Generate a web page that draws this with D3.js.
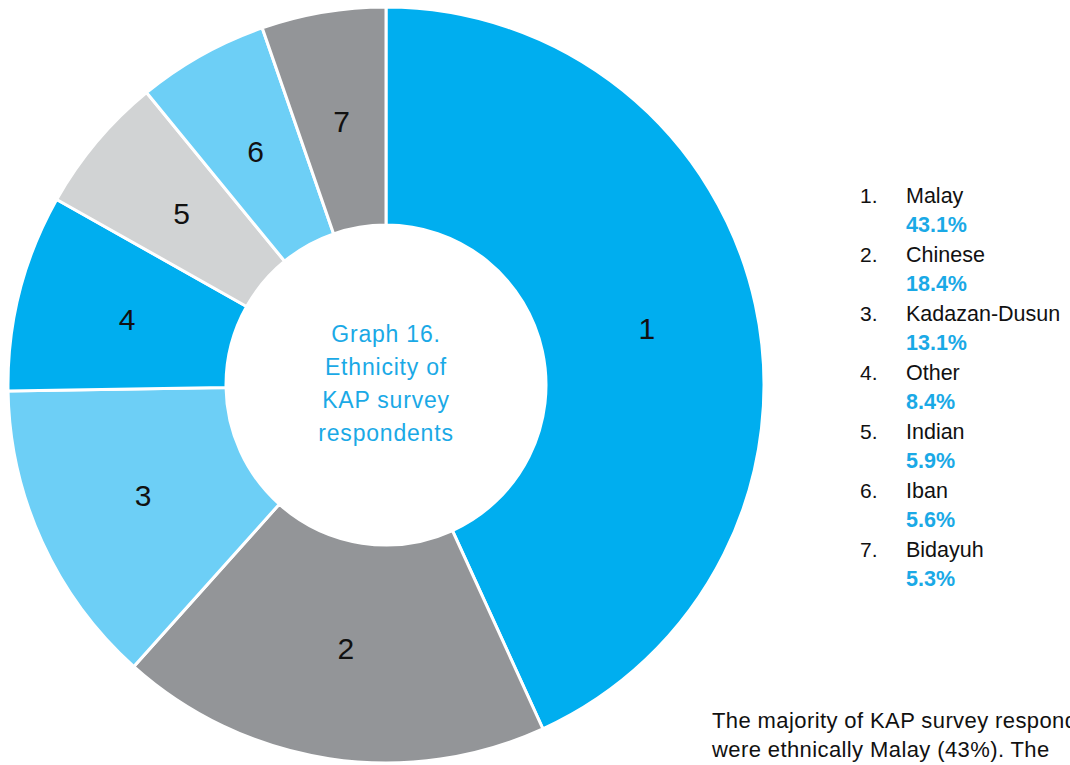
<!DOCTYPE html>
<html>
<head>
<meta charset="utf-8">
<script src="https://cdn.jsdelivr.net/npm/d3@7"></script>
<style>
  html, body { margin: 0; padding: 0; background: #fff; overflow: hidden; }
  svg { display: block; font-family: "Liberation Sans", Arial, Helvetica, sans-serif; }
</style>
</head>
<body>
<svg id="chart" width="1070" height="765"></svg>
<script>
// Ethnicity of KAP survey respondents (percent)
const categories = ["Malay", "Chinese", "Kadazan-Dusun", "Other", "Indian", "Iban", "Bidayuh"];
const values = [43.1, 18.4, 13.1, 8.4, 5.9, 5.6, 5.3];
const sliceColors = ["#00aeef", "#939598", "#6dcff6", "#00aeef", "#d1d3d4", "#6dcff6", "#939598"];
const centerTitle = ["Graph 16.", "Ethnicity of", "KAP survey", "respondents"];
const noteLines = ["The majority of KAP survey respondents", "were ethnically Malay (43%). The"];

const svg = d3.select("#chart");
const cx = 386, cy = 385;
const outerR = 378, innerR = 160;

const data = categories.map((c, i) => ({ name: c, value: values[i], idx: i }));

const pie = d3.pie().value(d => d.value).sort(null);
const arc = d3.arc().innerRadius(innerR).outerRadius(outerR);
const labelArc = d3.arc().innerRadius(267).outerRadius(267);

const g = svg.append("g").attr("transform", `translate(${cx},${cy})`);
const arcs = pie(data);

g.selectAll("path.slice")
  .data(arcs)
  .join("path")
  .attr("class", "slice")
  .attr("d", arc)
  .attr("fill", (d, i) => sliceColors[i])
  .attr("stroke", "#fff")
  .attr("stroke-width", 3)
  .attr("stroke-linejoin", "miter");

g.selectAll("text.num")
  .data(arcs)
  .join("text")
  .attr("class", "num")
  .attr("transform", d => `translate(${labelArc.centroid(d)})`)
  .attr("text-anchor", "middle")
  .attr("dominant-baseline", "central")
  .attr("font-size", 30)
  .attr("fill", "#111")
  .text(d => d.data.idx + 1);

// Title in the hole
g.selectAll("text.title")
  .data(centerTitle)
  .join("text")
  .attr("class", "title")
  .attr("x", 0)
  .attr("y", (d, i) => -51 + i * 33)
  .attr("text-anchor", "middle")
  .attr("dominant-baseline", "central")
  .attr("font-size", 23)
  .attr("letter-spacing", 0.8)
  .attr("fill", "#1aa9e6")
  .text(d => d);

// Legend
const legend = svg.append("g").attr("transform", "translate(860,203)");
const rows = legend.selectAll("g.row")
  .data(data)
  .join("g")
  .attr("class", "row")
  .attr("transform", (d, i) => `translate(0,${i * 59})`);

rows.append("text")
  .attr("x", 0).attr("y", 0)
  .attr("font-size", 21)
  .attr("fill", "#111")
  .text(d => (d.idx + 1) + ".");

rows.append("text")
  .attr("x", 46).attr("y", 0)
  .attr("font-size", 21.5)
  .attr("fill", "#111")
  .text(d => d.name);

rows.append("text")
  .attr("x", 46).attr("y", 29)
  .attr("font-size", 21.5)
  .attr("font-weight", "bold")
  .attr("fill", "#1aa9e6")
  .text(d => d3.format(".1f")(d.value) + "%");

// Note text
svg.selectAll("text.note")
  .data(noteLines)
  .join("text")
  .attr("class", "note")
  .attr("x", 712)
  .attr("y", (d, i) => 728 + i * 29)
  .attr("font-size", 22)
  .attr("letter-spacing", 0.4)
  .attr("fill", "#111")
  .text(d => d);
</script>
</body>
</html>
